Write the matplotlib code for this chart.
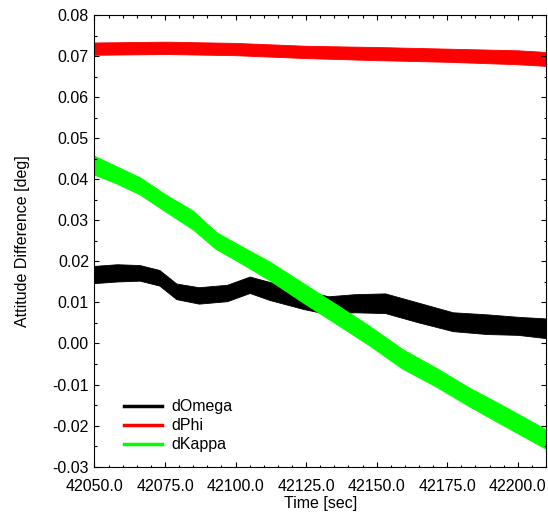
import numpy as np
import matplotlib.pyplot as plt
from matplotlib.lines import Line2D
from matplotlib.ticker import MultipleLocator, FormatStrFormatter

plt.rcParams['font.family'] = ['Liberation Sans', 'DejaVu Sans']

# values (band centre and half-width of each noisy trace)
omega_t = [42050, 42058, 42066, 42073, 42079, 42087, 42097, 42105, 42112, 42124,
           42133, 42142, 42153, 42165, 42177, 42189, 42200, 42210]
omega_mid = [0.0168, 0.0172, 0.0172, 0.0160, 0.0127, 0.0117, 0.0123, 0.0143, 0.0128, 0.0106,
             0.0093, 0.0098, 0.0098, 0.0075, 0.0053, 0.0047, 0.0043, 0.0037]
omega_spread = [0.0021, 0.0021, 0.0019, 0.0019, 0.0019, 0.0020, 0.0020, 0.0020, 0.0022, 0.0022,
                0.0022, 0.0022, 0.0024, 0.0024, 0.0023, 0.0024, 0.0022, 0.0024]

phi_t = [42050, 42075, 42100, 42125, 42150, 42175, 42200, 42210]
phi_mid = [0.0718, 0.0720, 0.0717, 0.0710, 0.0706, 0.0702, 0.0697, 0.0693]
phi_spread = [0.0015, 0.0015, 0.0015, 0.0015, 0.0016, 0.0016, 0.0017, 0.0017]

kappa_t = [42050, 42058, 42066, 42075, 42085, 42093, 42101, 42112, 42124, 42136,
           42147, 42159, 42171, 42183, 42195, 42210]
kappa_mid = [0.0434, 0.0410, 0.0384, 0.0343, 0.0300, 0.0251, 0.0220, 0.0177, 0.0123, 0.0070,
             0.0021, -0.0037, -0.0082, -0.0131, -0.0176, -0.0233]
kappa_spread = [0.0023, 0.0021, 0.0021, 0.0021, 0.0023, 0.0021, 0.0021, 0.0023, 0.0024, 0.0024,
                0.0024, 0.0024, 0.0023, 0.0023, 0.0024, 0.0024]

series = [
    ("dOmega", "black", omega_t, omega_mid, omega_spread),
    ("dPhi", "#ff0000", phi_t, phi_mid, phi_spread),
    ("dKappa", "#00ff00", kappa_t, kappa_mid, kappa_spread),
]

fig = plt.figure(figsize=(5.48, 5.13), dpi=100)
ax = fig.add_axes([0.1724, 0.0903, 0.824, 0.8805])

handles = []
for name, color, t, mid, spread in series:
    mid = np.array(mid)
    spread = np.array(spread)
    ax.fill_between(t, mid - spread, mid + spread, color=color, lw=0.6, edgecolor=color)
    handles.append(Line2D([], [], color=color, lw=2.5, label=name))

ax.set_xlim(42050, 42210)
ax.set_ylim(-0.03, 0.08)
ax.xaxis.set_major_locator(MultipleLocator(25))
ax.xaxis.set_minor_locator(MultipleLocator(5))
ax.yaxis.set_major_locator(MultipleLocator(0.01))
ax.yaxis.set_minor_locator(MultipleLocator(0.005))
ax.xaxis.set_major_formatter(FormatStrFormatter('%.1f'))
ax.yaxis.set_major_formatter(FormatStrFormatter('%.2f'))
ax.tick_params(which='both', direction='in', top=True, right=True, labelsize=11.5)
ax.tick_params(axis='x', pad=9)
ax.tick_params(axis='y', pad=4)
ax.tick_params(which='major', length=3.6, width=0.8)
ax.tick_params(which='minor', length=1.8, width=0.8)

ax.set_xlabel("Time [sec]", fontsize=11.5, labelpad=1)
ax.set_ylabel("Attitude Difference [deg]", fontsize=11.5, labelpad=16)

ax.legend(handles=handles, loc='lower left', bbox_to_anchor=(0.033, 0.0), frameon=False,
          fontsize=11.5, handlelength=2.4, handletextpad=0.6, labelspacing=0.25)

fig.savefig("out.png", dpi=100)
